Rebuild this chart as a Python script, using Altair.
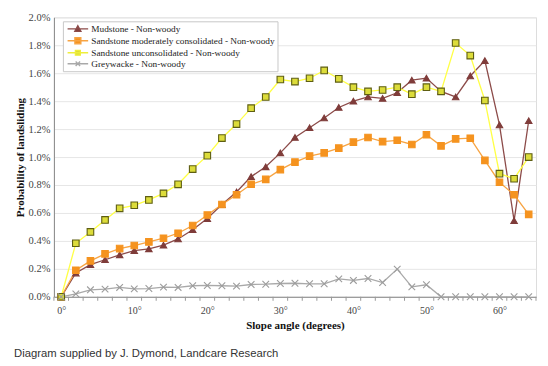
import altair as alt
import pandas as pd

angles = [0, 2, 4, 6, 8, 10, 12, 14, 16, 18, 20, 22, 24, 26, 28, 30, 32,
          34, 36, 38, 40, 42, 44, 46, 48, 50, 52, 54, 56, 58, 60, 62, 64]

series_names = [
    "Mudstone - Non-woody",
    "Sandstone moderately consolidated - Non-woody",
    "Sandstone unconsolidated - Non-woody",
    "Greywacke - Non-woody",
]

# probability of landsliding, in percent
mudstone = [0, 0.17, 0.23, 0.265, 0.30, 0.33, 0.343, 0.37, 0.414, 0.48,
            0.56, 0.66, 0.75, 0.86, 0.93, 1.03, 1.14, 1.21, 1.28, 1.355,
            1.40, 1.43, 1.42, 1.46, 1.55, 1.565, 1.47, 1.43, 1.58, 1.69,
            1.23, 0.545, 1.26]
sandstone_mod = [0, 0.19, 0.257, 0.307, 0.345, 0.367, 0.393, 0.419, 0.455, 0.51,
                 0.585, 0.66, 0.73, 0.805, 0.84, 0.91, 0.964, 1.007, 1.03, 1.064,
                 1.107, 1.14, 1.11, 1.12, 1.09, 1.16, 1.08, 1.13, 1.135, 0.976,
                 0.82, 0.73, 0.59]
sandstone_uncon = [0, 0.383, 0.464, 0.55, 0.633, 0.655, 0.693, 0.74, 0.805, 0.914,
                   1.01, 1.136, 1.236, 1.35, 1.43, 1.555, 1.54, 1.564, 1.62, 1.56,
                   1.50, 1.47, 1.48, 1.50, 1.45, 1.50, 1.47, 1.816, 1.726, 1.405,
                   0.881, 0.845, 1.0]
greywacke = [0, 0.021, 0.05, 0.055, 0.067, 0.057, 0.059, 0.069, 0.067, 0.079,
             0.081, 0.079, 0.076, 0.088, 0.09, 0.095, 0.097, 0.093, 0.093, 0.128,
             0.117, 0.131, 0.102, 0.198, 0.071, 0.086, 0, 0, 0, 0,
             0, 0, 0]

y_ticks = [0.0, 0.002, 0.004, 0.006, 0.008, 0.010, 0.012, 0.014, 0.016, 0.018, 0.020]
x_label_values = [0, 10, 20, 30, 40, 50, 60]
x_tick_values = [-1, 1, 3, 5, 7, 9, 11, 13, 15, 17, 19, 21, 23, 25, 27, 29, 31, 33,
                 35, 37, 39, 41, 43, 45, 47, 49, 51, 53, 55, 57, 59, 61, 63, 65]

line_colors = ["#8c4b49", "#f7a443", "#ffff45", "#a9a9a9"]
marker_fills = ["#7f3c3a", "#f5931f", "#dcdc3a", "transparent"]
marker_strokes = ["#7f3c3a", "#f5931f", "#5e5e12", "#9c9c9c"]
marker_shapes = ["triangle-up", "square", "square", "M-1,-1L1,1M-1,1L1,-1"]
marker_sizes = [42, 44, 26, 22]
legend_strokes = ["#8c4b49", "#f7a443", "#eeee3a", "#a9a9a9"]
legend_markers = [
    "M0,-0.69L0.69,0.56L-0.69,0.56Z",
    "M-0.67,-0.67H0.67V0.67H-0.67Z",
    "M-0.55,-0.55H0.55V0.55H-0.55Z",
    "M-0.5,-0.5L0.5,0.5M-0.5,0.5L0.5,-0.5",
]
legend_shapes = ["M-2.29,0H2.29" + m for m in legend_markers]

rows = []
for name, vals in zip(series_names, [mudstone, sandstone_mod, sandstone_uncon, greywacke]):
    for a, v in zip(angles, vals):
        rows.append({"angle": a, "prob_pct": v, "series": name})
df = pd.DataFrame(rows)
ticks_df = pd.DataFrame({"angle": x_tick_values})

x_scale = alt.Scale(domain=[-1, 65], nice=False, zero=False)
y_scale = alt.Scale(domain=[0, 0.02], nice=False)

x_axis = alt.Axis(
    title="Slope angle (degrees)",
    values=x_label_values,
    format="d",
    labelExpr="datum.label + '°'",
    labelOverlap=False,
    grid=False,
    ticks=False,
    domainColor="#8a8a8a",
    labelFont="Liberation Serif",
    labelFontSize=10,
    labelColor="#444444",
    labelPadding=9,
    titleFont="Liberation Serif",
    titleFontSize=11,
    titleFontWeight="bold",
    titleColor="#111111",
    titlePadding=4,
)

y_axis = alt.Axis(
    title="Probability of landsliding",
    values=y_ticks,
    format=".1%",
    labelOverlap=False,
    grid=True,
    gridColor="#e6e6e6",
    ticks=False,
    domainColor="#8a8a8a",
    labelFont="Liberation Serif",
    labelFontSize=10.5,
    labelColor="#444444",
    labelPadding=4,
    titleFont="Liberation Serif",
    titleFontSize=11,
    titleFontWeight="bold",
    titleColor="#111111",
    titlePadding=3,
)

X = alt.X("angle:Q", scale=x_scale, axis=x_axis)
Y = alt.Y("prob:Q", scale=y_scale, axis=y_axis)

base = alt.Chart(df).transform_calculate(prob="datum.prob_pct / 100")

lines = base.mark_line(strokeWidth=1.3).encode(
    x=X, y=Y,
    color=alt.Color("series:N", scale=alt.Scale(domain=series_names, range=line_colors), legend=None),
    order=alt.Order("angle:Q"),
)

points = base.mark_point(filled=False, strokeWidth=1.1, opacity=1).encode(
    x=X, y=Y,
    shape=alt.Shape("series:N", scale=alt.Scale(domain=series_names, range=marker_shapes), legend=None),
    fill=alt.Fill("series:N", scale=alt.Scale(domain=series_names, range=marker_fills), legend=None),
    stroke=alt.Stroke("series:N", scale=alt.Scale(domain=series_names, range=marker_strokes), legend=None),
    size=alt.Size("series:N", scale=alt.Scale(domain=series_names, range=marker_sizes), legend=None),
)

# category-boundary tick marks below the x axis
axis_ticks = alt.Chart(ticks_df).mark_rule(color="#9a9a9a", strokeWidth=1).encode(
    x=X,
    y=alt.value(280),
    y2=alt.value(284),
)

legend_props = dict(
    title=None,
    orient="none",
    legendX=9,
    legendY=4,
    direction="vertical",
    fillColor="white",
    strokeColor="#c8c8c8",
    padding=2,
    rowPadding=0,
    symbolSize=81,
    symbolStrokeWidth=1.3,
    symbolOffset=7.5,
    labelOffset=8,
    labelFont="Liberation Serif",
    labelFontSize=9.3,
    labelColor="#222222",
    labelLimit=400,
)

legend_layer = base.transform_filter("false").mark_point(
    filled=False, strokeWidth=1.3, opacity=1, size=81
).encode(
    x=X, y=Y,
    shape=alt.Shape("series:N", scale=alt.Scale(domain=series_names, range=legend_shapes),
                    legend=alt.Legend(**legend_props)),
    fill=alt.Fill("series:N", scale=alt.Scale(domain=series_names, range=marker_fills),
                  legend=alt.Legend(**legend_props)),
    stroke=alt.Stroke("series:N", scale=alt.Scale(domain=series_names, range=legend_strokes),
                      legend=alt.Legend(**legend_props)),
)

chart = alt.layer(lines, points, axis_ticks, legend_layer).resolve_scale(
    shape="independent", fill="independent", stroke="independent", size="independent"
).properties(
    width=483,
    height=280,
    padding={"left": 6, "top": 4, "right": 3, "bottom": 2},
    title=alt.TitleParams(
        "Diagram supplied by J. Dymond, Landcare Research",
        orient="bottom",
        anchor="start",
        frame="bounds",
        font="Liberation Sans",
        fontSize=11.3,
        fontWeight="normal",
        color="#333333",
        offset=17,
    ),
).configure_view(
    stroke="#c4c4c4"
).configure(background="white")

chart.save("out.html", embed_options={"renderer": "svg", "actions": False})
